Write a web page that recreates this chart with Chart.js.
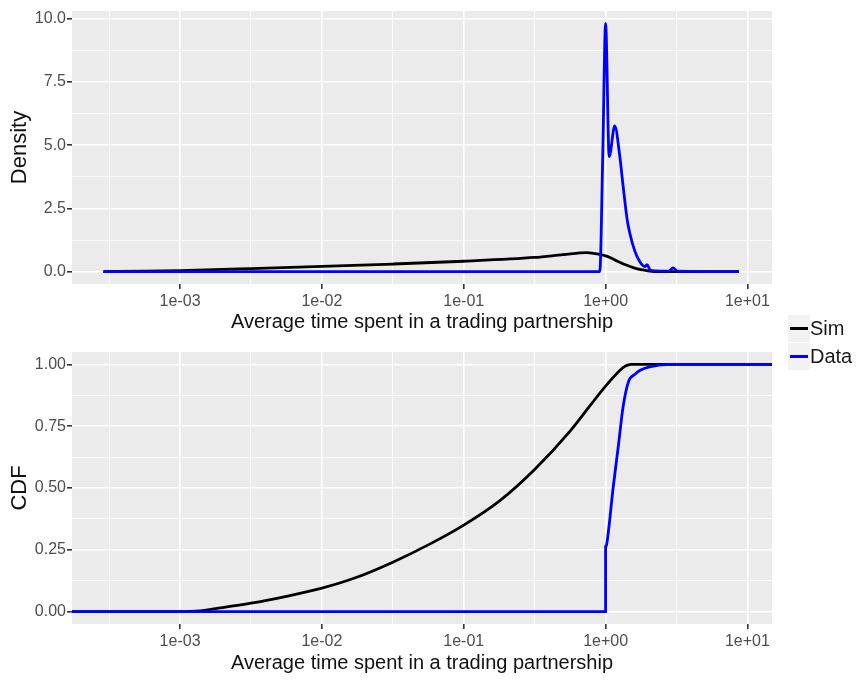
<!DOCTYPE html>
<html>
<head>
<meta charset="utf-8">
<script src="https://cdn.jsdelivr.net/npm/chart.js@4"></script>
<style>
  html, body { margin: 0; padding: 0; background: #ffffff; }
  #wrap { position: relative; width: 856px; height: 680px; font-family: "Liberation Sans", Arial, sans-serif; }
  canvas { position: absolute; left: 0; }
  #c1 { top: 0; }
  #c2 { top: 340px; }
  .legend { position: absolute; left: 788px; top: 315px; }
  .row { position: relative; height: 27.5px; }
  .key { position: absolute; left: 0; top: 0; width: 22px; height: 27px; background: #F2F2F2; }
  .key i { position: absolute; left: 2px; right: 2px; top: 12px; height: 3px; }
  .lbl { position: absolute; left: 22px; top: 0; line-height: 27px; font-size: 20px; color: #1A1A1A; white-space: nowrap; }
</style>
</head>
<body>
<div id="wrap">
  <canvas id="c1" width="856" height="340"></canvas>
  <canvas id="c2" width="856" height="340"></canvas>
  <div class="legend">
    <div class="row"><div class="key"><i style="background:#000000"></i></div><div class="lbl">Sim</div></div>
    <div class="row"><div class="key"><i style="background:#0000FF"></i></div><div class="lbl">Data</div></div>
  </div>
</div>
<script>
// Density of average partnership duration (log-scaled time axis)
const simDensityX  = [0.000288, 0.000562, 0.001, 0.00316, 0.01, 0.0316, 0.1, 0.316, 0.501, 0.741, 0.912, 1.0, 1.072, 1.259, 1.413, 1.585, 1.82, 2.04, 2.4, 8.71];
const simDensityY  = [0, 0.015, 0.04, 0.12, 0.21, 0.3, 0.41, 0.56, 0.67, 0.755, 0.68, 0.62, 0.56, 0.37, 0.25, 0.15, 0.07, 0.02, 0, 0];
const dataDensityX = [0.000288, 0.91, 0.955, 1.0, 1.06, 1.16, 1.26, 1.33, 1.42, 1.48, 1.61, 1.74, 1.89, 1.96, 2.05, 2.24, 2.8, 2.99, 3.2, 8.71];
const dataDensityY = [0, 0, 4.6, 9.82, 4.55, 5.76, 4.55, 3.37, 2.05, 1.53, 0.8, 0.4, 0.2, 0.28, 0.08, 0.03, 0.02, 0.15, 0.02, 0];

// Empirical CDF of the same quantity
const simCdfX  = [0.000173, 0.001, 0.00138, 0.00178, 0.00316, 0.00562, 0.01, 0.0178, 0.0316, 0.0562, 0.1, 0.178, 0.316, 0.562, 0.794, 1.0, 1.26, 1.38, 1.51, 14.9];
const simCdfY  = [0, 0, 0.003, 0.012, 0.034, 0.062, 0.095, 0.14, 0.2, 0.27, 0.35, 0.447, 0.575, 0.73, 0.84, 0.912, 0.975, 0.993, 1.0, 1.0];
const dataCdfX = [0.000173, 1.0, 1.0, 1.016, 1.045, 1.13, 1.23, 1.33, 1.45, 1.61, 1.74, 2.04, 2.95, 14.9];
const dataCdfY = [0, 0, 0.262, 0.27, 0.32, 0.50, 0.67, 0.83, 0.93, 0.96, 0.975, 0.99, 1.0, 1.0];

// Axis breaks and labels
const xTickValues = [0.001, 0.01, 0.1, 1, 10];
const xTickLabels = ['1e-03', '1e-02', '1e-01', '1e+00', '1e+01'];
const densityTickValues = [0, 2.5, 5, 7.5, 10];
const densityTickLabels = ['0.0', '2.5', '5.0', '7.5', '10.0'];
const cdfTickValues = [0, 0.25, 0.5, 0.75, 1];
const cdfTickLabels = ['0.00', '0.25', '0.50', '0.75', '1.00'];

const X_MIN = 0.000173, X_MAX = 14.9;
const FONT = '"Liberation Sans", Arial, sans-serif';
const TICK_COLOR = '#4D4D4D';

function points(xs, ys) { return xs.map((x, i) => ({ x: x, y: ys[i] })); }

// majors plus geometric / arithmetic midpoints as minor grid lines
function withMinors(majors, geometric, lo, hi) {
  const out = [];
  const first = geometric ? majors[0] / Math.sqrt(majors[1] / majors[0]) : majors[0] - (majors[1] - majors[0]) / 2;
  const last = geometric ? majors[majors.length - 1] * Math.sqrt(majors[1] / majors[0]) : majors[majors.length - 1] + (majors[1] - majors[0]) / 2;
  const all = [first];
  majors.forEach((m, i) => {
    all.push(m);
    if (i < majors.length - 1) all.push(geometric ? Math.sqrt(m * majors[i + 1]) : (m + majors[i + 1]) / 2);
  });
  all.push(last);
  all.forEach(v => { if (v >= lo && v <= hi) out.push({ value: v }); });
  return out;
}

function isMajor(v, majors) { return majors.some(m => Math.abs(m - v) < 1e-9 * Math.max(1, Math.abs(m))); }

const panelBg = {
  id: 'panelBg',
  beforeDraw(chart) {
    const a = chart.chartArea, ctx = chart.ctx;
    ctx.save();
    ctx.fillStyle = '#EBEBEB';
    ctx.fillRect(a.left, a.top, a.right - a.left, a.bottom - a.top);
    ctx.restore();
  }
};

function gridOpts(majors) {
  return {
    color: c => '#FFFFFF',
    lineWidth: c => (c.tick && isMajor(c.tick.value, majors)) ? 1.6 : 0.8,
    tickColor: c => (c.tick && isMajor(c.tick.value, majors)) ? '#333333' : 'rgba(0,0,0,0)',
    tickLength: 5,
    drawOnChartArea: true
  };
}

function makePanel(canvasId, yTitle, yMin, yMax, yTicks, yLabels, sets, padTop, titleBottom) {
  return new Chart(document.getElementById(canvasId), {
    type: 'line',
    data: {
      datasets: [
        { label: 'Sim', data: points(sets[0], sets[1]), borderColor: '#000000', borderWidth: 2.8, pointRadius: 0, cubicInterpolationMode: 'monotone', order: 1 },
        { label: 'Data', data: points(sets[2], sets[3]), borderColor: '#0000FF', borderWidth: 2.8, pointRadius: 0, cubicInterpolationMode: 'monotone', order: 0 }
      ]
    },
    options: {
      responsive: false,
      animation: false,
      events: [],
      layout: { padding: { left: 0, right: 84, top: padTop, bottom: 0 } },
      plugins: { legend: { display: false }, tooltip: { enabled: false } },
      scales: {
        x: {
          type: 'logarithmic',
          min: X_MIN,
          max: X_MAX,
          afterBuildTicks: s => { s.ticks = withMinors(xTickValues, true, X_MIN, X_MAX); },
          afterFit: s => { s.height = 56; },
          border: { display: false },
          grid: gridOpts(xTickValues),
          ticks: {
            autoSkip: false, maxRotation: 0, padding: 3,
            color: TICK_COLOR, font: { family: FONT, size: 16 },
            callback: v => { const i = xTickValues.findIndex(m => Math.abs(m - v) < 1e-9 * m); return i >= 0 ? xTickLabels[i] : ''; }
          },
          title: { display: true, text: 'Average time spent in a trading partnership', color: '#111111', font: { family: FONT, size: 20 }, padding: { top: 0, bottom: titleBottom } }
        },
        y: {
          type: 'linear',
          min: yMin,
          max: yMax,
          afterBuildTicks: s => { s.ticks = withMinors(yTicks, false, yMin, yMax); },
          afterFit: s => { s.width = 72; },
          border: { display: false },
          grid: gridOpts(yTicks),
          ticks: {
            autoSkip: false, padding: 1,
            color: TICK_COLOR, font: { family: FONT, size: 16 },
            callback: v => { const i = yTicks.findIndex(m => Math.abs(m - v) < 1e-9); return i >= 0 ? yLabels[i] : ''; }
          },
          title: { display: true, text: yTitle, color: '#111111', font: { family: FONT, size: 22 }, padding: { top: 7, bottom: 0 } }
        }
      }
    },
    plugins: [panelBg]
  });
}

makePanel('c1', 'Density', -0.49, 10.31, densityTickValues, densityTickLabels,
  [simDensityX, simDensityY, dataDensityX, dataDensityY], 11, 6);
makePanel('c2', 'CDF', -0.05, 1.05, cdfTickValues, cdfTickLabels,
  [simCdfX, simCdfY, dataCdfX, dataCdfY], 12, 5);
</script>
</body>
</html>
